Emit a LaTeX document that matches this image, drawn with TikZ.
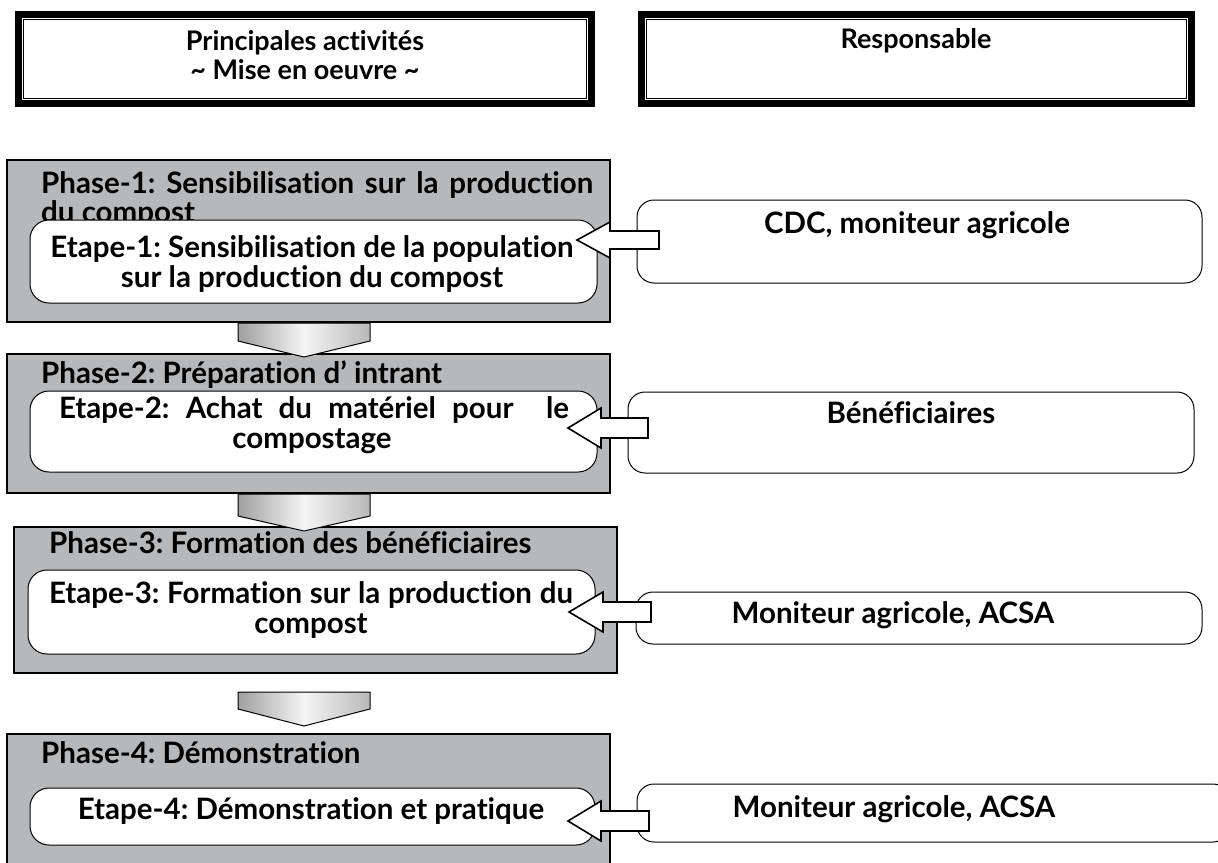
\documentclass[tikz,border=0pt]{standalone}
\usepackage{fontspec}
\setmainfont{Lato}[Ligatures=NoCommon]
\usetikzlibrary{calc}
\definecolor{phasegray}{RGB}{183,184,186}
\tikzset{
  headframe/.style={draw=black, line width=7pt, fill=white, inner sep=0pt},
  phasebox/.style={draw=black, line width=2pt, fill=phasegray, inner sep=0pt},
  etapebox/.style={draw=black, line width=1pt, fill=white, rounded corners=19pt, inner sep=0pt},
  respbox/.style={draw=black, line width=1pt, fill=white, rounded corners=17pt, inner sep=0pt},
  blockarrow/.style={draw=black, line width=1.6pt, fill=white, line join=miter},
  chevron/.style={draw=black, line width=1pt, left color=gray!75, right color=gray!55, middle color=gray!8},
  txt/.style={inner sep=0pt, font=\bfseries\fontsize{29.5}{30}\selectfont\frenchspacing},
  headtxt/.style={inner sep=0pt, font=\bfseries\fontsize{27}{30}\selectfont\frenchspacing},
}
\begin{document}
\begin{tikzpicture}[x=1pt,y=-1pt]
\clip (0,0) rectangle (1218,862);
\fill[white] (0,0) rectangle (1218,862);
% headers
\node[headframe, minimum width=573pt, minimum height=89pt] (hL) at (305,59) {};
\draw[line width=1.5pt] ($(hL.north west)+(8.5,8.5)$) rectangle ($(hL.south east)+(-8.5,-8.5)$);
\node[headframe, minimum width=550pt, minimum height=89pt] (hR) at (916.5,59) {};
\draw[line width=1.5pt] ($(hR.north west)+(8.5,8.5)$) rectangle ($(hR.south east)+(-8.5,-8.5)$);
\node[headtxt, anchor=base] (hL1) at (305,50) {Principales activités};
\node[headtxt, anchor=base] (hL2) at (305,79) {\textasciitilde{} Mise en oeuvre \textasciitilde};
\node[headtxt, anchor=base] (hR1) at (916,48) {Responsable};
% phase boxes
\node[phasebox, minimum width=603pt, minimum height=162pt] (P1) at (308.5,241) {};
\node[phasebox, minimum width=603pt, minimum height=139pt] (P2) at (308.5,423.5) {};
\node[phasebox, minimum width=603pt, minimum height=146pt] (P3) at (315.5,600) {};
\node[phasebox, minimum width=603pt, minimum height=140pt] (P4) at (308.5,804) {};
\node[txt, anchor=base west] (P1a) at (41,193) {\makebox[552pt][s]{Phase-1: Sensibilisation sur la production}};
\node[txt, anchor=base west] (P1b) at (41,222) {du compost};
\node[txt, anchor=base west] (P2a) at (41,383) {Phase-2: Préparation d’ intrant};
\node[txt, anchor=base west] (P3a) at (49,553) {Phase-3: Formation des bénéficiaires};
\node[txt, anchor=base west] (P4a) at (41,763) {Phase-4: Démonstration};
% etape boxes
\node[etapebox, minimum width=567pt, minimum height=83pt] (E1) at (313.5,261.5) {};
\node[etapebox, minimum width=567pt, minimum height=81pt] (E2) at (313.5,431.5) {};
\node[etapebox, minimum width=567pt, minimum height=84pt] (E3) at (311.5,612) {};
\node[etapebox, minimum width=565pt, minimum height=57pt] (E4) at (312.5,816.5) {};
\node[txt, anchor=base] (E1a) at (312,257) {Etape-1: Sensibilisation de la population};
\node[txt, anchor=base] (E1b) at (312,287) {sur la production du compost};
\node[txt, anchor=base] (E2a) at (314,418) {\makebox[510pt][s]{Etape-2: Achat du matériel pour\ \ le}};
\node[txt, anchor=base] (E2b) at (312,448) {compostage};
\node[txt, anchor=base] (E3a) at (311,603) {\makebox[524pt][s]{Etape-3: Formation sur la production du}};
\node[txt, anchor=base] (E3b) at (311,633) {compost};
\node[txt, anchor=base] (E4a) at (311,819) {Etape-4: Démonstration et pratique};
% responsable boxes
\node[respbox, minimum width=565pt, minimum height=83pt] (R1) at (919.5,241.5) {};
\node[respbox, minimum width=566pt, minimum height=81pt] (R2) at (911,432.5) {};
\node[respbox, minimum width=566pt, minimum height=52pt] (R3) at (919,618) {};
\node[respbox, minimum width=593pt, minimum height=58pt] (R4) at (933.5,813) {};
\node[txt, anchor=base] (R1a) at (917,233) {CDC, moniteur agricole};
\node[txt, anchor=base] (R2a) at (911,423) {Bénéficiaires};
\node[txt, anchor=base] (R3a) at (893,623) {Moniteur agricole, ACSA};
\node[txt, anchor=base] (R4a) at (894,817) {Moniteur agricole, ACSA};
% block arrows (from responsable to etape)
\coordinate (A1) at (577,240);
\coordinate (A2) at (568,428);
\coordinate (A3) at (569,612);
\coordinate (A4) at (568,821);
\draw[blockarrow] (A1) -- ++(33,-18) -- ++(0,9) -- ++(49,0) -- ++(0,18) -- ++(-49,0) -- ++(0,9) -- cycle;
\draw[blockarrow] (A2) -- ++(33,-20) -- ++(0,10) -- ++(47,0) -- ++(0,20) -- ++(-47,0) -- ++(0,10) -- cycle;
\draw[blockarrow] (A3) -- ++(34,-20) -- ++(0,10) -- ++(48,0) -- ++(0,20) -- ++(-48,0) -- ++(0,10) -- cycle;
\draw[blockarrow] (A4) -- ++(33,-20) -- ++(0,10) -- ++(48,0) -- ++(0,20) -- ++(-48,0) -- ++(0,10) -- cycle;
% chevrons between phases
\draw[chevron] (P1.south -| 238,0) -- (P1.south -| 370,0) -- ++(0,18) -- (304,357) -- (238,341) -- cycle;
\draw[chevron] (P2.south -| 238,0) -- (P2.south -| 370,0) -- ++(0,22) -- (304,531) -- (238,516) -- cycle;
\draw[chevron] (238,692) -- (370,692) -- (370,709) -- (304,726) -- (238,709) -- cycle;
\end{tikzpicture}
\end{document}
